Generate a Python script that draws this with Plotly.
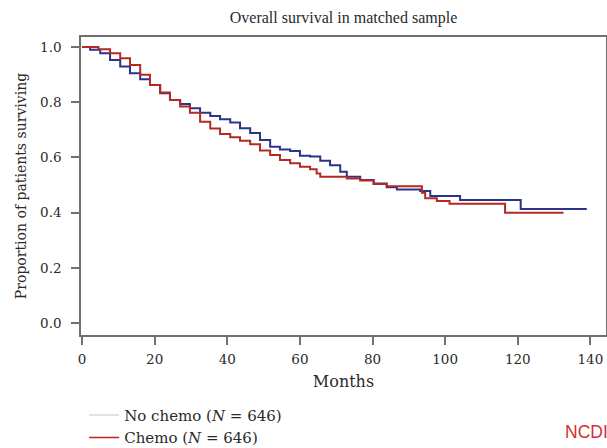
import plotly.graph_objects as go

# Data (Kaplan-Meier curves)
months_nochemo = [0, 2.2, 5.0, 7.7, 10.5, 13.2, 16.0, 18.7, 21.5, 24.2, 27.0, 29.7, 32.5, 35.3,
                  38.0, 40.8, 43.5, 46.3, 49.0, 51.8, 54.5, 57.3, 60.0, 62.8, 65.6, 68.3, 71.1,
                  72.9, 76.6, 80.3, 83.9, 86.7, 93.1, 95.9, 104.1, 120.8, 139.0]
surv_nochemo = [1.0, 0.99, 0.977, 0.953, 0.929, 0.905, 0.883, 0.862, 0.832, 0.808, 0.793, 0.778,
                0.762, 0.75, 0.738, 0.726, 0.706, 0.688, 0.663, 0.639, 0.629, 0.623, 0.606, 0.603,
                0.588, 0.572, 0.548, 0.53, 0.518, 0.506, 0.492, 0.484, 0.478, 0.460, 0.446, 0.413,
                0.413]

months_chemo = [0, 4.5, 7.7, 10.5, 13.2, 16.0, 18.7, 21.5, 24.2, 27.0, 29.7, 32.5, 35.3, 38.0,
                40.8, 43.5, 46.3, 49.0, 51.8, 54.5, 57.3, 60.0, 62.8, 64.6, 65.6, 72.9, 76.6,
                80.3, 83.9, 93.6, 94.5, 97.7, 101.2, 116.5, 132.6]
surv_chemo = [1.0, 0.992, 0.977, 0.959, 0.935, 0.899, 0.862, 0.835, 0.808, 0.784, 0.762, 0.729,
              0.705, 0.685, 0.673, 0.66, 0.648, 0.625, 0.609, 0.591, 0.579, 0.566, 0.557, 0.542,
              0.53, 0.524, 0.516, 0.504, 0.496, 0.472, 0.452, 0.442, 0.432, 0.400, 0.400]

x_ticks = [0, 20, 40, 60, 80, 100, 120, 140]
y_ticks = [0.0, 0.2, 0.4, 0.6, 0.8, 1.0]

legend_labels = ["No chemo (<i>N</i> = 646)", "Chemo (<i>N</i> = 646)"]

BLUE = "#2B3488"
RED = "#B42A22"
SERIF = "DejaVu Serif, serif"
TITLE_SERIF = "Liberation Serif, serif"
TXT = "#2a2a2a"

fig = go.Figure()
fig.add_trace(go.Scatter(x=months_nochemo, y=surv_nochemo, mode="lines",
                         line=dict(color=BLUE, width=2, shape="hv"), showlegend=False))
fig.add_trace(go.Scatter(x=months_chemo, y=surv_chemo, mode="lines",
                         line=dict(color=RED, width=2, shape="hv"), showlegend=False))
# legend-only entries
fig.add_trace(go.Scatter(x=[None], y=[None], mode="lines", name=legend_labels[0],
                         line=dict(color="#C8C8CC", width=1)))
fig.add_trace(go.Scatter(x=[None], y=[None], mode="lines", name=legend_labels[1],
                         line=dict(color=RED, width=1.5)))

axis_common = dict(showline=True, linecolor="#707070", linewidth=1.5, mirror=True,
                   ticks="outside", ticklen=8, tickcolor="#707070", tickwidth=1.5,
                   showgrid=False, zeroline=False,
                   tickfont=dict(family=SERIF, size=13.5, color=TXT))

fig.update_layout(
    width=607, height=448,
    margin=dict(l=81, r=1, t=37, b=113, autoexpand=False),
    paper_bgcolor="white", plot_bgcolor="white",
    title=dict(text="Overall survival in matched sample", x=0.5, xref="paper",
               y=0.962, yref="container", xanchor="center", yanchor="middle",
               font=dict(family=TITLE_SERIF, size=16, color=TXT)),
    xaxis=dict(range=[-0.3, 144.3], tickvals=x_ticks, ticklabelstandoff=3,
               title=dict(text="Months", font=dict(family=SERIF, size=16, color=TXT),
                          standoff=10),
               **axis_common),
    yaxis=dict(range=[-0.043, 1.036], tickvals=y_ticks, tickformat=".1f",
               ticklabelstandoff=7,
               title=dict(text="Proportion of patients surviving",
                          font=dict(family=SERIF, size=14, color=TXT), standoff=10),
               **axis_common),
    legend=dict(x=0.006, y=-0.214, xanchor="left", yanchor="top",
                font=dict(family=SERIF, size=15, color=TXT),
                bgcolor="rgba(0,0,0,0)", tracegroupgap=0, itemwidth=30),
)
fig.add_annotation(text="NCDI", xref="paper", yref="paper",
                   x=(563 - 81) / 525, y=(335 - 432) / 298, xanchor="left", yanchor="middle",
                   showarrow=False, font=dict(family="Liberation Sans, Arial, sans-serif",
                                              size=17.5, color="#D23030"))

fig.write_html("out.html")
